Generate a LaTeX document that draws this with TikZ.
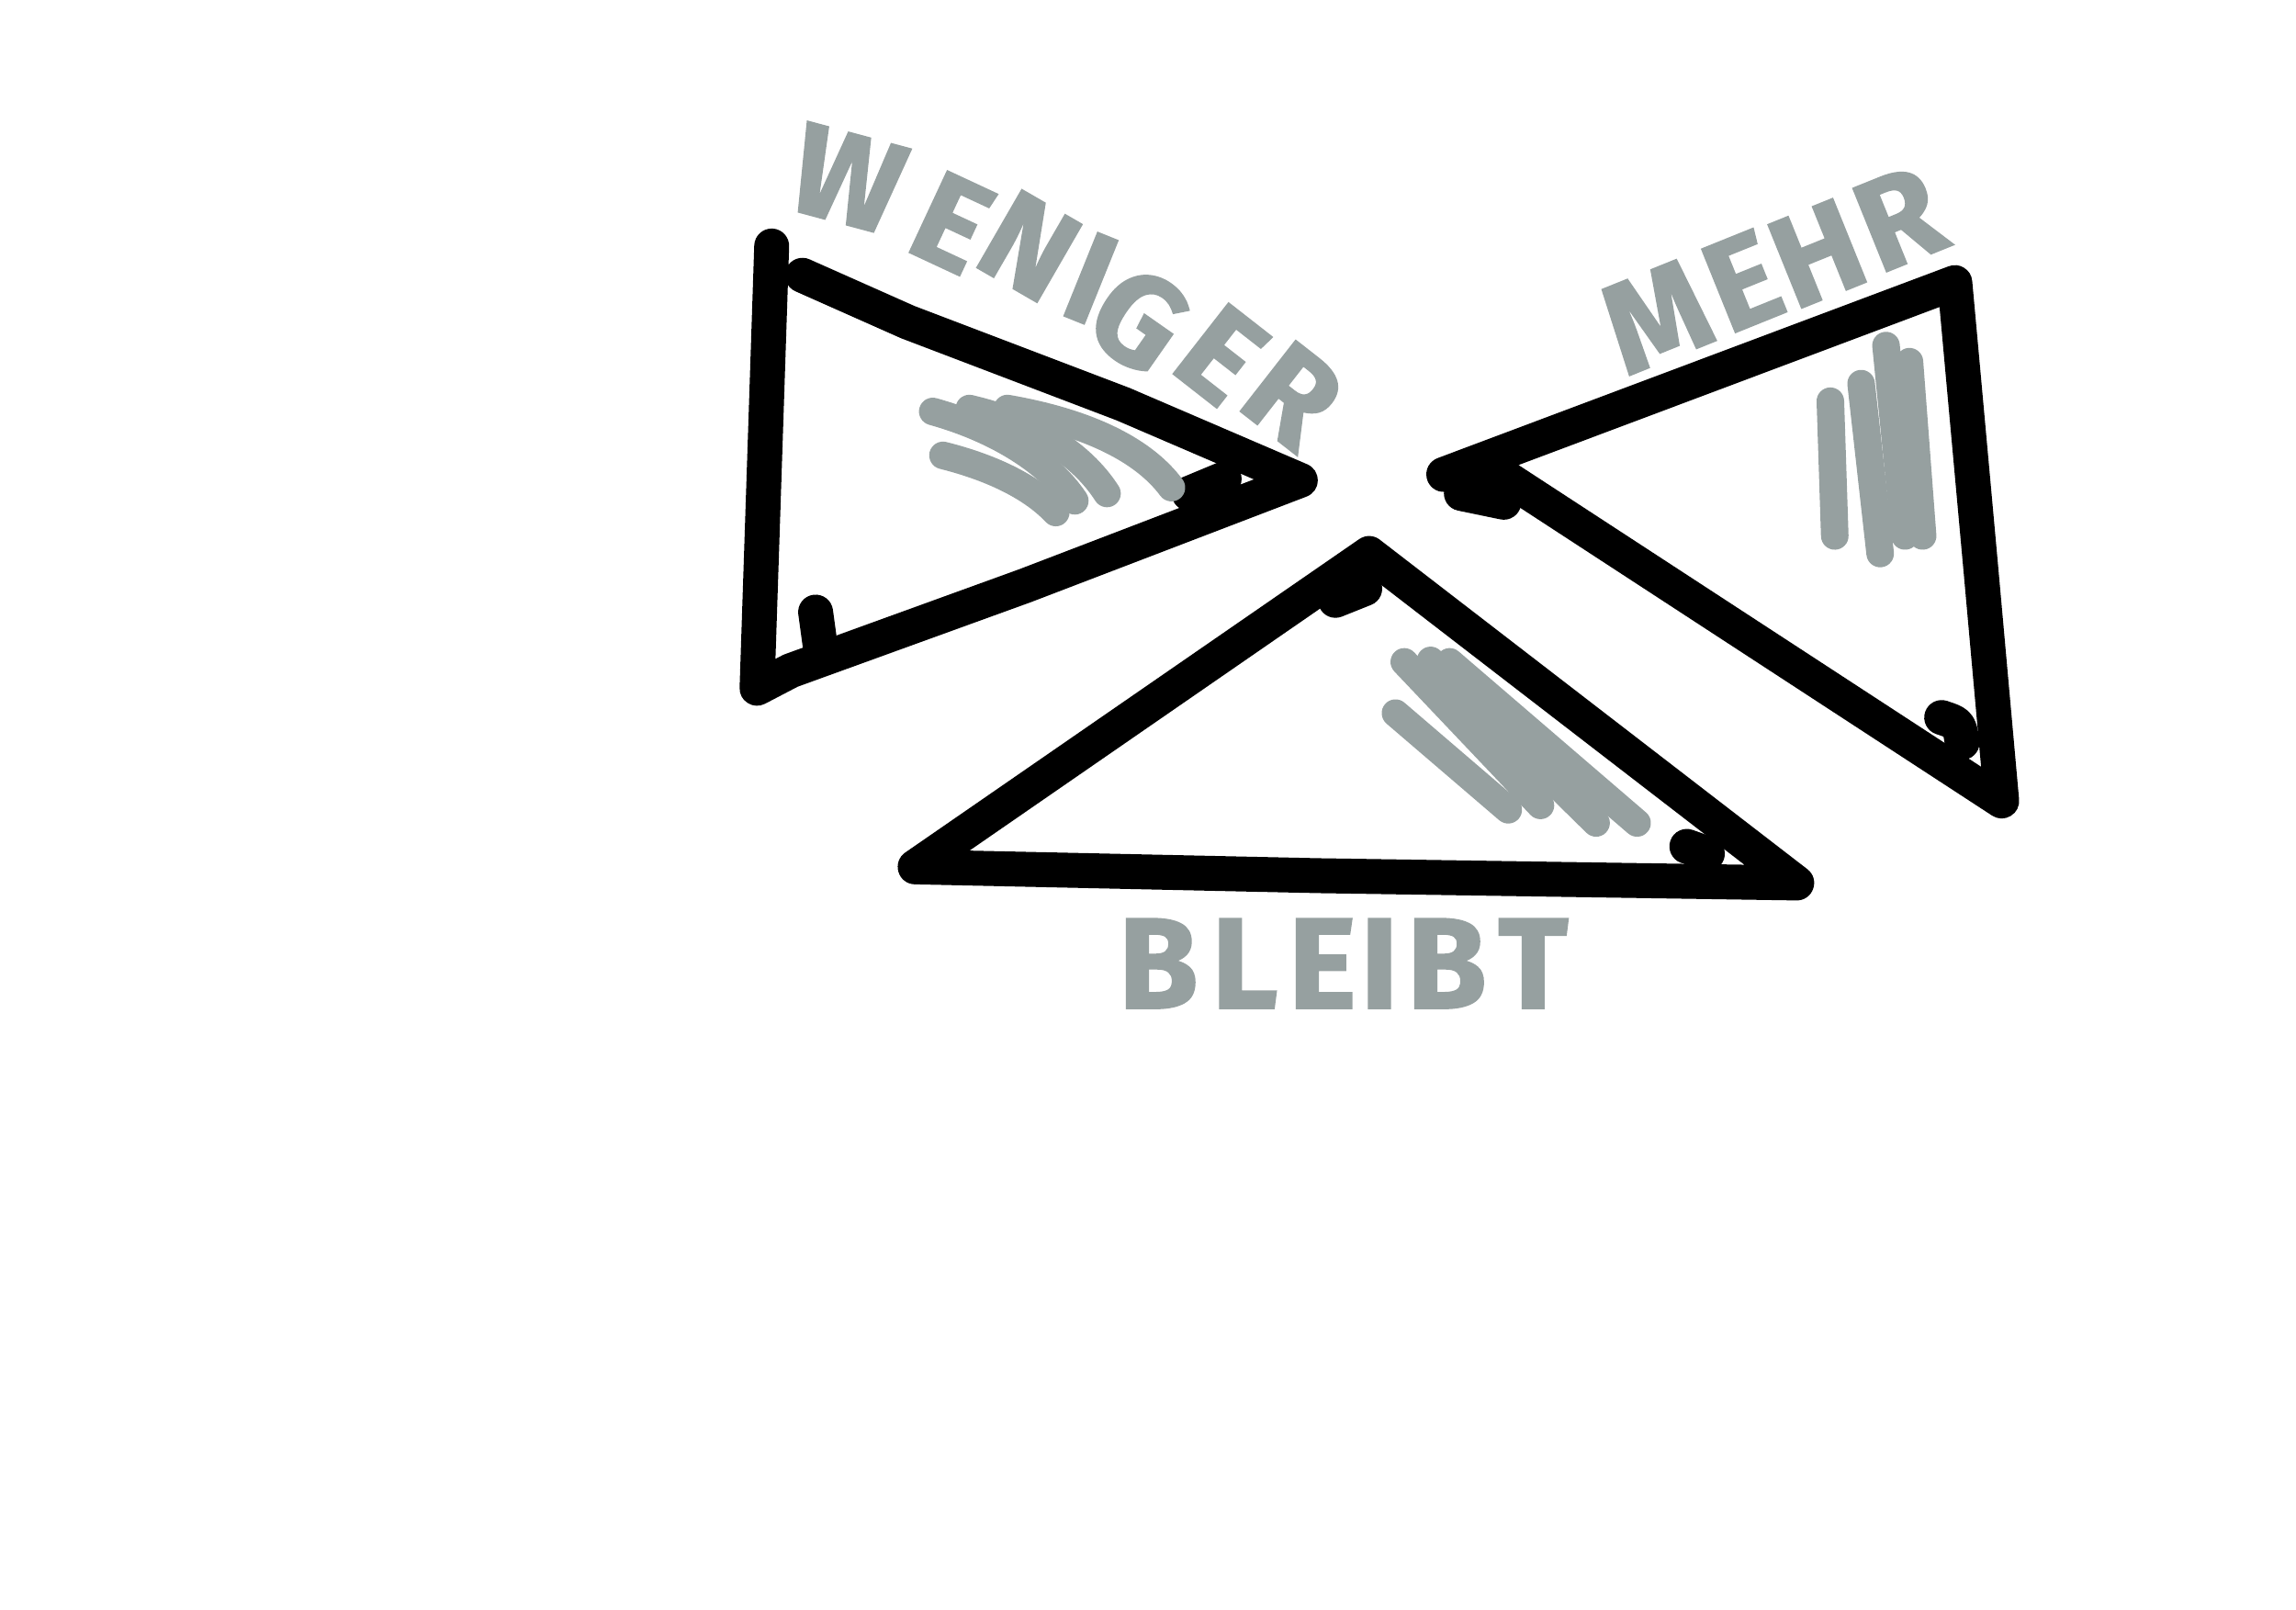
\documentclass[tikz,border=0pt]{standalone}
\usepackage{fontspec}
\setmainfont{Fira Sans}
\newfontfamily\markerfont[FakeBold=1.5]{Fira Sans}
\definecolor{markergrey}{RGB}{150,160,160}
\begin{document}
\begin{tikzpicture}[x=0.015944cm, y=-0.015944cm,
	pen/.style={line width=0.38cm, line cap=round, line join=round},
	hatch/.style={line width=0.3cm, markergrey, line cap=round},
	letter/.style={text=markergrey, font=\fontsize{40}{44}\markerfont\bfseries, inner sep=0pt}]

\useasboundingbox (0,0) rectangle (1568,1099);

% weniger
\draw[pen] (527,168) -- (517,470) -- (540,458) -- (700,400) -- (888,328)
	-- (767,276) -- (620,220) -- (548,188);
\draw[pen] (557,418) -- (560,440);
\draw[pen] (812,337) -- (836,327);
\draw[hatch] (688,279) .. controls (740,288) and (780,306) .. (800,333);
\draw[hatch] (662,279) .. controls (705,289) and (738,309) .. (756,337);
\draw[hatch] (637,281) .. controls (680,293) and (716,315) .. (734,342);
\draw[hatch] (644,311) .. controls (680,320) and (706,334) .. (721,350);

% mehr
\draw[pen] (986,324) -- (1335,193) -- (1352,380) -- (1367,547) -- (1022,322) -- cycle;
\draw[pen] (998,337) -- (1027,343);
\draw[pen] (1326,490) .. controls (1338,494) .. (1340,507);
\foreach \a/\b/\c/\d in {1250/274/1253/366, 1271/262/1284/378, 1288/236/1301/366, 1304/247/1313/366} {
	\draw[hatch] (\a,\b) -- (\c,\d);
}

% bleibt
\draw[pen] (935,378) -- (625,592) -- (900,598) -- (1227,603) -- cycle;
\draw[pen] (912,410) -- (932,402);
\draw[pen] (1152,578) -- (1166,583);
\foreach \a/\b/\c/\d in {953/487/1030/553, 959/452/1052/550, 977/451/1090/562, 990/452/1118/562} {
	\draw[hatch] (\a,\b) -- (\c,\d);
}

% labels
\foreach \l/\x/\y/\r [count=\i] in {W/579/122/-15, E/650/152/-25, N/703/168/-30, I/745/190/-22,
	G/778/218/-35, E/834/242/-38, R/883/270/-38} {
	\node[letter, rotate=\r] (w\i) at (\x,\y) {\l};
}
\foreach \l/\x/\y [count=\i] in {M/1131/216, E/1190/192, H/1241/173, R/1297/149} {
	\node[letter, rotate=22] (m\i) at (\x,\y) {\l};
}
\foreach \l/\x [count=\i] in {B/791, L/850, E/903, I/942, B/988, T/1047} {
	\node[letter] (b\i) at (\x,658) {\l};
}

\end{tikzpicture}
\end{document}
